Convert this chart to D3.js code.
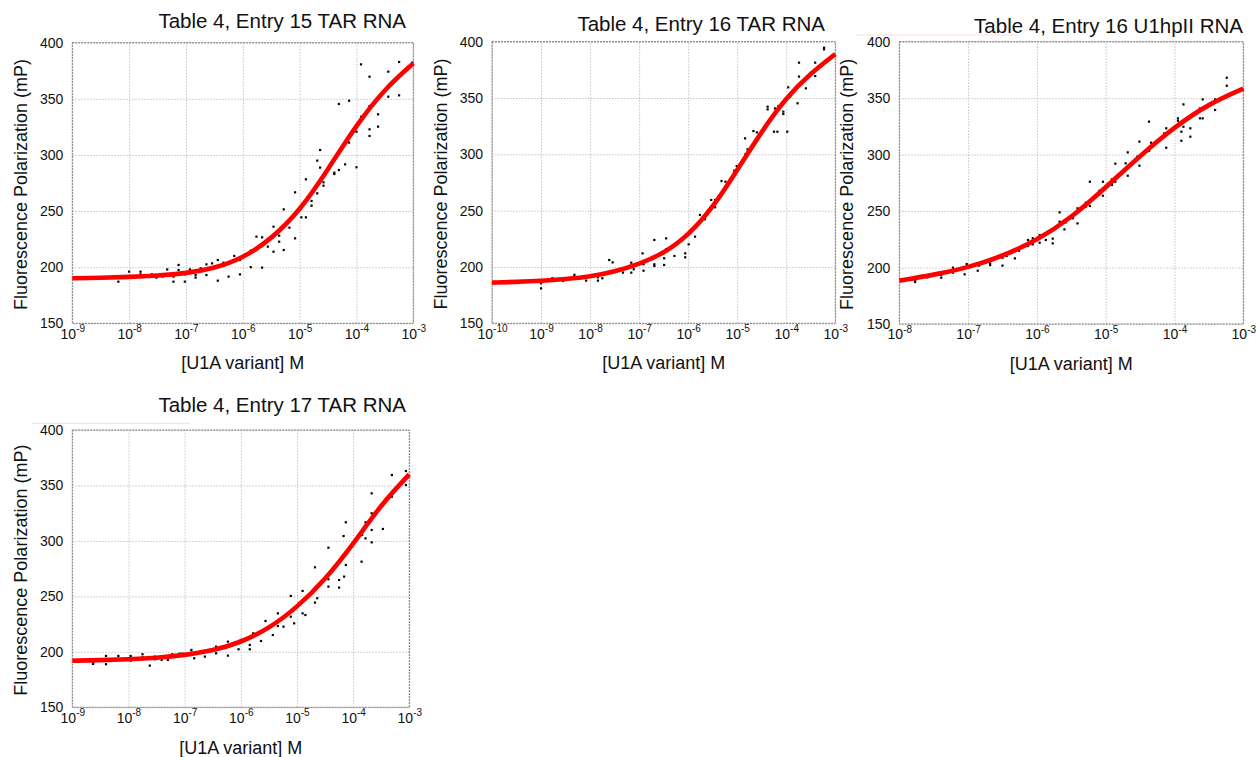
<!DOCTYPE html>
<html lang="en">
<head>
<meta charset="utf-8">
<title>U1A variant binding curves</title>
<script src="https://d3js.org/d3.v7.min.js"></script>
<style>
  body { margin: 0; background: #fff; }
  svg { display: block; font-family: "Liberation Sans", Arial, sans-serif; }
</style>
</head>
<body>
<script>
// shared y ticks (mP)
const yTicks = [150, 200, 250, 300, 350, 400];

// points are [log10 concentration, mP]
// Table 4, Entry 15 TAR RNA
const e15Points = [[-8.19,187.1],[-8.0,196],[-8.0,192],[-7.80,196],[-7.80,193.6],[-7.60,193.6],[-7.60,192],[-7.52,190.7],[-7.41,191.6],[-7.41,193.6],[-7.33,198],[-7.22,191.6],[-7.22,187.1],[-7.13,202],[-7.13,197.5],[-7.02,187.1],[-7.02,193.6],[-6.93,198],[-6.83,193],[-6.83,190.7],[-6.74,199],[-6.64,202.5],[-6.64,193],[-6.54,203.4],[-6.44,206.4],[-6.44,188],[-6.34,204],[-6.34,201],[-6.25,191.6],[-6.15,210],[-6.05,193.6],[-6.05,206.4],[-5.95,210.9],[-5.86,214.7],[-5.86,200],[-5.76,215.3],[-5.76,227.2],[-5.66,226.6],[-5.66,199.6],[-5.56,218.3],[-5.46,236.1],[-5.46,213.8],[-5.36,228.1],[-5.36,222.7],[-5.28,251.5],[-5.28,215.3],[-5.18,235.2],[-5.08,266.7],[-5.08,225.7],[-4.97,244.4],[-4.89,278.3],[-4.89,244.4],[-4.79,259],[-4.79,254.8],[-4.69,294.9],[-4.69,265.8],[-4.64,304.4],[-4.64,288.7],[-4.58,275.6],[-4.58,272.6],[-4.39,284.2],[-4.39,283],[-4.31,286.6],[-4.31,345.4],[-4.20,291.6],[-4.20,310.3],[-4.13,348.3],[-4.13,311],[-4.00,320.7],[-4.00,289],[-3.92,380.7],[-3.92,334],[-3.77,369.7],[-3.77,343.6],[-3.77,322.8],[-3.77,316.9],[-3.62,336.2],[-3.62,325.2],[-3.44,374.2],[-3.44,351.9],[-3.25,382.8],[-3.25,353.1],[-3.02,382.2]];
const e15FitExp = [-9,-8.5,-8,-7.5,-7,-6.5,-6,-5.5,-5,-4.5,-4,-3.5,-3];
const e15FitMp = [190.1,190.6,191.3,192.5,194.5,199,208,225,250,287,327,359,381.6];

// Table 4, Entry 16 TAR RNA
const e16Points = [[-9.0,185.5],[-9.0,181],[-8.77,190],[-8.77,188.5],[-8.55,190],[-8.55,187.6],[-8.32,193],[-8.32,190.8],[-8.08,191.4],[-8.08,187.9],[-7.84,190.8],[-7.84,187.9],[-7.75,190],[-7.61,206.2],[-7.54,204.1],[-7.54,195.9],[-7.33,198.8],[-7.33,195],[-7.16,203.8],[-7.16,195],[-7.11,198],[-6.93,212.1],[-6.91,202.4],[-6.91,196.7],[-6.69,224],[-6.69,202.4],[-6.69,200.9],[-6.49,207.7],[-6.49,201.8],[-6.45,225.4],[-6.45,215.7],[-6.28,209.8],[-6.23,220.7],[-6.06,212.1],[-6.06,208.6],[-5.99,220.1],[-5.86,226.9],[-5.76,246.2],[-5.66,244.1],[-5.66,242.3],[-5.53,259.5],[-5.45,253],[-5.45,259.5],[-5.32,276.3],[-5.24,269.8],[-5.24,275.7],[-5.06,285.5],[-5.01,289.6],[-4.84,314.2],[-4.83,300.3],[-4.79,304.4],[-4.67,320.7],[-4.60,319.5],[-4.38,342.3],[-4.38,339.9],[-4.25,320.1],[-4.23,340.8],[-4.18,320.1],[-4.16,342.9],[-4.06,337.9],[-4.06,335.8],[-3.98,320.1],[-3.96,359.5],[-3.92,351.2],[-3.77,345.3],[-3.77,359.5],[-3.74,381.4],[-3.74,369],[-3.60,358.6],[-3.41,381.4],[-3.41,369.5],[-3.23,394.7],[-3.23,393.2]];
const e16FitExp = [-10,-9.5,-9,-8.5,-8,-7.5,-7,-6.5,-6,-5.5,-5,-4.5,-4,-3.5,-3];
const e16FitMp = [186.1,186.7,187.6,189.3,191.4,195.9,202.5,212,228,252.5,286,320.5,350.5,372,389];

// Table 4, Entry 16 U1hpII RNA
const u1Points = [[-7.77,189],[-7.77,187.2],[-7.59,191.3],[-7.39,195.5],[-7.39,193.4],[-7.39,191],[-7.22,199.9],[-7.22,195.5],[-7.05,194],[-7.02,203.1],[-6.86,197.2],[-6.84,203.7],[-6.84,201.7],[-6.68,202.2],[-6.68,203.7],[-6.63,206.7],[-6.50,208.7],[-6.50,201.7],[-6.44,210.2],[-6.32,215.5],[-6.32,208.1],[-6.26,214.9],[-6.13,224.4],[-6.13,219.1],[-6.06,220.5],[-6.06,225.9],[-5.96,228.8],[-5.96,222],[-5.87,224.4],[-5.77,225.6],[-5.77,221.4],[-5.67,248.9],[-5.67,240.6],[-5.60,233.8],[-5.58,240],[-5.48,244.7],[-5.48,243.6],[-5.41,252.4],[-5.41,239.1],[-5.29,257.4],[-5.29,253.9],[-5.23,276],[-5.23,254.5],[-5.09,268.1],[-5.09,264.8],[-5.04,276],[-5.04,263.6],[-4.91,278.1],[-4.91,273.1],[-4.86,292],[-4.86,276],[-4.71,287.8],[-4.71,292.3],[-4.68,302],[-4.68,281.3],[-4.54,298.2],[-4.51,311.5],[-4.51,290.2],[-4.37,329.2],[-4.37,303.2],[-4.34,310.6],[-4.15,318.8],[-4.15,316.5],[-4.12,323.3],[-4.12,306.1],[-3.95,332.1],[-3.95,330],[-3.90,320.3],[-3.90,312.3],[-3.87,344.5],[-3.87,324.7],[-3.77,323.3],[-3.77,315.9],[-3.63,341],[-3.63,332.1],[-3.59,348.9],[-3.59,332.1],[-3.41,348.9],[-3.41,339.5],[-3.24,368.1],[-3.24,361]];
const u1FitExp = [-8,-7.5,-7,-6.5,-6,-5.5,-5,-4.5,-4,-3.5,-3];
const u1FitMp = [188.4,193.5,200,210,224,244,271,299,324.5,345,358.5];

// Table 4, Entry 17 TAR RNA
const e17Points = [[-8.63,190.3],[-8.63,189.1],[-8.40,196.3],[-8.40,188.8],[-8.18,196.3],[-8.18,193.3],[-7.96,196.3],[-7.96,192.1],[-7.75,197.8],[-7.75,195.1],[-7.62,193.6],[-7.62,187.6],[-7.53,195.7],[-7.53,193.3],[-7.41,195.7],[-7.41,192.7],[-7.30,196.3],[-7.30,192.7],[-7.22,197.8],[-7.09,198.4],[-7.04,198.4],[-6.88,201.7],[-6.88,199.3],[-6.83,194.2],[-6.65,200.8],[-6.64,195.7],[-6.44,204.7],[-6.44,198.7],[-6.23,209.2],[-6.23,196.6],[-6.22,204.7],[-6.04,202.3],[-6.00,210.7],[-5.84,206.2],[-5.84,202.3],[-5.78,216.7],[-5.64,209.8],[-5.56,227.8],[-5.43,215.2],[-5.34,234.7],[-5.34,223.3],[-5.24,222.7],[-5.11,250.4],[-5.11,231.7],[-5.05,225.7],[-4.90,254.9],[-4.90,234.7],[-4.85,233.2],[-4.68,276.2],[-4.68,244.4],[-4.64,248.3],[-4.44,293.9],[-4.44,258.8],[-4.44,265.4],[-4.25,257.9],[-4.25,264.8],[-4.17,304.4],[-4.16,267.8],[-4.13,316.8],[-4.13,278.3],[-4.06,292.7],[-3.85,281.3],[-3.84,305.3],[-3.78,316.8],[-3.78,302.3],[-3.67,324.9],[-3.67,342.9],[-3.67,309.9],[-3.67,298.7],[-3.47,332.4],[-3.47,310.8],[-3.31,359.4],[-3.31,339.9],[-3.06,363],[-3.06,350.4]];
const e17FitExp = [-9,-8.5,-8,-7.5,-7,-6.5,-6,-5.5,-5,-4.5,-4,-3.5,-3];
const e17FitMp = [192,192.5,193.2,194.5,197,201,208.5,221,240,265,297,333,360];

const width = 1256, height = 757;

const svg = d3.select("body")
  .append("svg")
  .attr("width", width)
  .attr("height", height);

// faint stray lines present in the source image
svg.append("line").attr("x1", 856).attr("x2", 1018).attr("y1", 35).attr("y2", 35)
  .attr("stroke", "#ffd9d9").attr("stroke-width", 1);
svg.append("line").attr("x1", 32).attr("x2", 190).attr("y1", 423.3).attr("y2", 423.3)
  .attr("stroke", "#ffd9d9").attr("stroke-width", 1);

const panels = [
  {title: "Table 4, Entry 15 TAR RNA", left: 72.3, right: 413.3, top: 42.7, bottom: 323.3,
   expRange: [-9, -3], titleX: 406, titleY: 28.3, yLabX: 26.5, xLabY: 368.5,
   points: e15Points, fitExp: e15FitExp, fitMp: e15FitMp},
  {title: "Table 4, Entry 16 TAR RNA", left: 492, right: 835.3, top: 41.7, bottom: 323.3,
   expRange: [-10, -3], titleX: 825, titleY: 30.7, yLabX: 446.8, xLabY: 368.5,
   points: e16Points, fitExp: e16FitExp, fitMp: e16FitMp},
  {title: "Table 4, Entry 16 U1hpII RNA", left: 899.3, right: 1243.3, top: 41.7, bottom: 324,
   expRange: [-8, -3], titleX: 1243, titleY: 33, yLabX: 852.5, xLabY: 370,
   points: u1Points, fitExp: u1FitExp, fitMp: u1FitMp},
  {title: "Table 4, Entry 17 TAR RNA", left: 72.3, right: 409.3, top: 430, bottom: 707.3,
   expRange: [-9, -3], titleX: 406, titleY: 412, yLabX: 26.5, xLabY: 754,
   points: e17Points, fitExp: e17FitExp, fitMp: e17FitMp}
];

panels.forEach(p => {
  const xScale = d3.scaleLog()
    .domain([Math.pow(10, p.expRange[0]), Math.pow(10, p.expRange[1])])
    .range([p.left, p.right]);
  const yScale = d3.scaleLinear()
    .domain([150, 400])
    .range([p.bottom, p.top]);

  const decades = d3.range(p.expRange[0], p.expRange[1] + 1).map(e => Math.pow(10, e));

  const g = svg.append("g");

  // y axis + horizontal grid
  const gy = g.append("g")
    .attr("transform", "translate(" + p.left + ",0)")
    .call(d3.axisLeft(yScale).tickValues(yTicks).tickSize(-(p.right - p.left)).tickPadding(9));
  gy.select(".domain").remove();
  gy.selectAll(".tick line")
    .attr("stroke", "#c4c4c4")
    .attr("stroke-dasharray", "1.5,1.5");
  gy.selectAll(".tick text")
    .attr("font-size", 14)
    .attr("font-family", "Liberation Sans, Arial, sans-serif")
    .attr("fill", "#111");

  // x axis + vertical grid
  const gx = g.append("g")
    .attr("transform", "translate(0," + p.bottom + ")")
    .call(d3.axisBottom(xScale).tickValues(decades).tickSize(-(p.bottom - p.top)).tickPadding(5.5).tickFormat(() => ""));
  gx.select(".domain").remove();
  gx.selectAll(".tick line")
    .attr("stroke", "#c4c4c4")
    .attr("stroke-dasharray", "1.5,1.5");
  gx.selectAll(".tick text")
    .attr("font-size", 14)
    .attr("font-family", "Liberation Sans, Arial, sans-serif")
    .attr("fill", "#111")
    .each(function(d) {
      const t = d3.select(this);
      t.append("tspan").text("10");
      t.append("tspan").attr("dy", -6.5).attr("font-size", 10)
        .text(String(Math.round(Math.log10(d))));
    });

  // frame
  g.append("rect")
    .attr("x", p.left).attr("y", p.top)
    .attr("width", p.right - p.left).attr("height", p.bottom - p.top)
    .attr("fill", "none")
    .attr("stroke", "#777")
    .attr("stroke-dasharray", "2,1");

  // data points
  g.selectAll(".pt")
    .data(p.points)
    .enter()
    .append("rect")
    .attr("x", d => xScale(Math.pow(10, d[0])) - 1.1)
    .attr("y", d => yScale(d[1]) - 1.1)
    .attr("width", 2.2)
    .attr("height", 2.2)
    .attr("fill", "#000");

  // fitted curve
  const fit = p.fitExp.map((e, i) => [Math.pow(10, e), p.fitMp[i]]);
  const line = d3.line()
    .x(d => xScale(d[0]))
    .y(d => yScale(d[1]))
    .curve(d3.curveBasis);
  g.append("path")
    .datum(fit)
    .attr("d", line)
    .attr("fill", "none")
    .attr("stroke", "#ff0000")
    .attr("stroke-width", 4.6)
    .attr("stroke-linecap", "butt");

  // labels
  g.append("text")
    .attr("x", p.titleX).attr("y", p.titleY)
    .attr("text-anchor", "end")
    .attr("font-size", 20.5)
    .attr("fill", "#111")
    .text(p.title);

  g.append("text")
    .attr("transform", "translate(" + p.yLabX + "," + ((p.top + p.bottom) / 2 + 1.5) + ") rotate(-90)")
    .attr("text-anchor", "middle")
    .attr("font-size", 18)
    .attr("fill", "#111")
    .text("Fluorescence Polarization (mP)");

  g.append("text")
    .attr("x", (p.left + p.right) / 2).attr("y", p.xLabY)
    .attr("text-anchor", "middle")
    .attr("font-size", 18)
    .attr("fill", "#111")
    .text("[U1A variant] M");
});
</script>
</body>
</html>
